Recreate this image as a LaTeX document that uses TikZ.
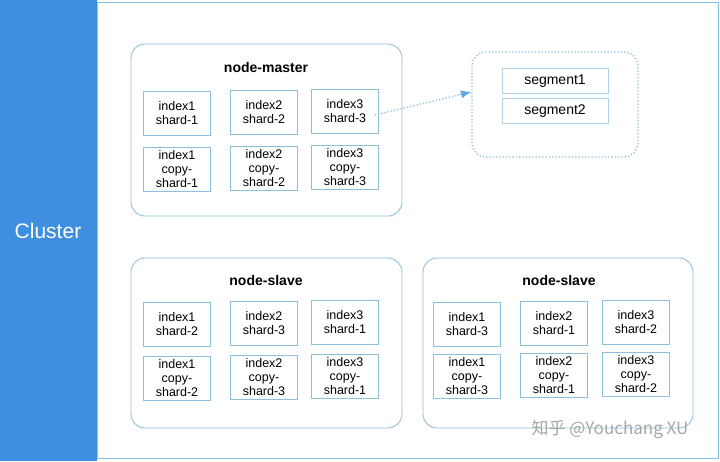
\documentclass[tikz,border=0pt]{standalone}
\usepackage{fontspec}
\setmainfont{Liberation Sans}
\newfontfamily\cjk{Noto Sans CJK SC}
\usetikzlibrary{positioning, arrows.meta}
\definecolor{barblue}{HTML}{3E8FE0}
\definecolor{lineblue}{HTML}{8CC0DC}
\definecolor{tipblue}{HTML}{5AA8E6}

\begin{document}
\begin{tikzpicture}[
    x=1pt, y=-1pt,
    group/.style={draw=lineblue, line width=0.9pt, rounded corners=14pt},
    cell/.style={draw=lineblue, line width=0.7pt, minimum width=67pt, minimum height=44pt, inner sep=1pt, align=center, font=\fontsize{12.5}{14}\selectfont},
    seg/.style={draw=lineblue!70, line width=0.6pt, minimum width=106pt, minimum height=25pt, font=\fontsize{14}{16}\selectfont},
    title/.style={font=\bfseries\fontsize{14}{16}\selectfont}
]
   \useasboundingbox (0,0) rectangle (720,461);

   % Cluster bar and frame
   \fill[barblue] (0,0) rectangle (97,461);
   \node[text=white, font=\fontsize{21}{24}\selectfont] (cluster) at (48,231) {Cluster};
   \draw[lineblue, line width=0.9pt] (97,2) rectangle (718,458);

   % node-master
   \draw[group] (131,44) rectangle (402,216);
   \node[title] (master) at (266,67) {node-master};
   \node[cell] (m11) at (177,113) {index1\\shard-1};
   \node[cell] (m12) at (264,112) {index2\\shard-2};
   \node[cell] (m13) at (345,111) {index3\\shard-3};
   \node[cell] (m21) at (177,169) {index1\\copy-\\shard-1};
   \node[cell] (m22) at (264,168) {index2\\copy-\\shard-2};
   \node[cell] (m23) at (345,167) {index3\\copy-\\shard-3};

   % segments
   \draw[lineblue, line width=1.3pt, dotted, rounded corners=14pt] (472,52) rectangle (638,157);
   \node[seg] (s1) at (555,81) {segment1};
   \node[seg] (s2) at (555,111) {segment2};
   \coordinate (segin) at (471,92);
   \draw[lineblue, line width=1.3pt, dotted] (m13.east) ++(-4,4) -- (segin);
   \draw[tipblue, line width=0.5pt, shorten <=88pt, -{Latex[length=10pt, width=8pt]}] (m13.east) ++(-4,4) -- (segin);

   % node-slave 1
   \draw[group] (131,258) rectangle (402,428);
   \node[title] (slave1) at (266,280) {node-slave};
   \node[cell] (a11) at (177,324) {index1\\shard-2};
   \node[cell] (a12) at (264,323) {index2\\shard-3};
   \node[cell] (a13) at (345,322) {index3\\shard-1};
   \node[cell] (a21) at (177,378) {index1\\copy-\\shard-2};
   \node[cell] (a22) at (264,377) {index2\\copy-\\shard-3};
   \node[cell] (a23) at (345,376) {index3\\copy-\\shard-1};

   % node-slave 2
   \draw[group] (423,258) rectangle (693,428);
   \node[title] (slave2) at (559,280) {node-slave};
   \node[cell] (b11) at (467,324) {index1\\shard-3};
   \node[cell] (b12) at (554,323) {index2\\shard-1};
   \node[cell] (b13) at (636,322) {index3\\shard-2};
   \node[cell] (b21) at (467,376) {index1\\copy-\\shard-3};
   \node[cell] (b22) at (554,375) {index2\\copy-\\shard-1};
   \node[cell] (b23) at (636,374) {index3\\copy-\\shard-2};

   % watermark
   \node[text=black!35, font=\cjk\fontsize{17}{19}\selectfont] (mark) at (610,429) {知乎 @Youchang XU};
\end{tikzpicture}
\end{document}
